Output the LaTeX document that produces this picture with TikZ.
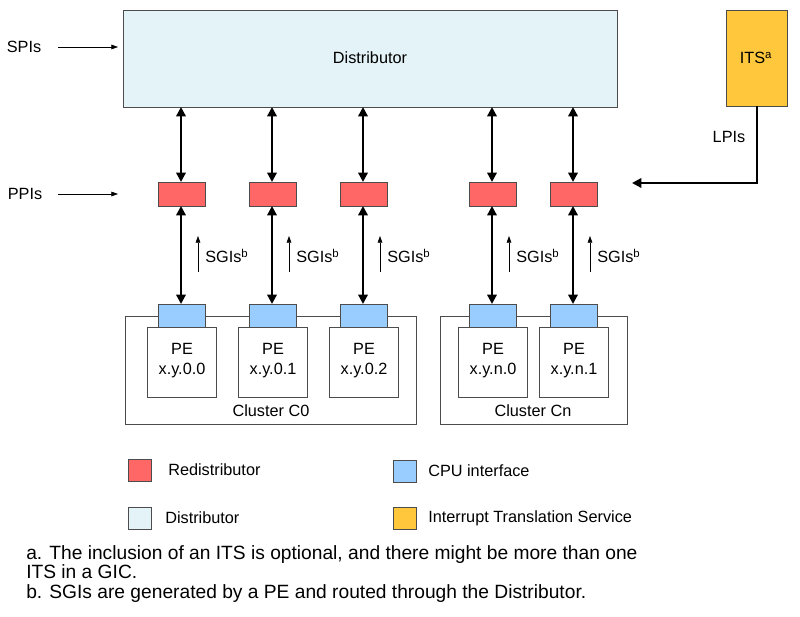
\documentclass[tikz,border=0pt]{standalone}
\usepackage{fontspec}
\setmainfont{Liberation Sans}
\usetikzlibrary{arrows.meta}
\definecolor{distc}{HTML}{E4F3F7}
\definecolor{redc}{HTML}{FF6666}
\definecolor{bluec}{HTML}{99CCFF}
\definecolor{itsc}{HTML}{FFC83C}
\begin{document}
\begin{tikzpicture}[x=0.75pt,y=-0.75pt,font=\fontsize{12.2}{14}\selectfont,
  bx/.style={draw=black!70,line width=0.6pt},
  dbl/.style={{Triangle[length=7pt,width=7pt]}-{Triangle[length=7pt,width=7pt]},line width=1.7pt},
  thin/.style={-{Triangle[length=5pt,width=3.5pt]},line width=0.5pt},
  txt/.style={inner sep=0pt}]
\useasboundingbox (0,0) rectangle (800,617);
% distributor and ITS
\draw[bx,fill=distc] (123,10) rectangle (617,107);
\node[txt] (dist) at (370,58) {Distributor};
\draw[bx,fill=itsc] (726,10) rectangle (787,106);
\node[txt] (its) at (756,58) {ITS\textsuperscript{a}};
\coordinate (itsb) at (757,106);
% inputs
\node[txt] (spi) at (24,47) {SPIs};
\coordinate (spiA) at (58,47); \coordinate (spiB) at (118,47);
\draw[thin] (spiA) -- (spiB);
\node[txt] (ppi) at (25,194) {PPIs};
\coordinate (ppiA) at (58,194); \coordinate (ppiB) at (118,194);
\draw[thin] (ppiA) -- (ppiB);
% LPIs
\node[txt] (lpi) at (729,137) {LPIs};
\coordinate (lpiT) at (632,183);
\draw[line width=1.7pt,-{Triangle[length=7pt,width=7pt]}] (itsb) |- (lpiT);
% clusters
\draw[bx] (125,316) rectangle (416,424);
\node[txt] (c0) at (271,411) {Cluster C0};
\draw[bx] (440,316) rectangle (627,424);
\node[txt] (cn) at (533,411) {Cluster Cn};
% columns
\foreach \x/\n/\l in {181/a/x.y.0.0,272/b/x.y.0.1,363/c/x.y.0.2,492/d/x.y.n.0,573/e/x.y.n.1}{
  \draw[bx,fill=redc] (\x-23,182) rectangle (\x+24,206);
  \coordinate (rt\n) at (\x,182); \coordinate (rb\n) at (\x,206);
  \coordinate (dt\n) at (\x,107);
  \draw[dbl] (dt\n) -- (rt\n);
  \draw[bx,fill=white] (\x-34,327) rectangle (\x+35,397);
  \draw[bx,fill=bluec] (\x-23,304) rectangle (\x+24,327);
  \coordinate (ct\n) at (\x,304);
  \draw[dbl] (rb\n) -- (ct\n);
  \node[txt,align=center] (pe\n) at (\x+1,361) {PE\\[1pt]\l};
  \coordinate (sa\n) at (\x+17,272); \coordinate (sb\n) at (\x+17,236);
  \draw[thin] (sa\n) -- (sb\n);
  \node[txt,anchor=west] (sg\n) at (\x+24,256) {SGIs\textsuperscript{b}};
}
% legend
\draw[bx,fill=redc] (128,459) rectangle (151,481);
\node[txt,anchor=west] (l1) at (168,470) {Redistributor};
\draw[bx,fill=bluec] (393,460) rectangle (416,482);
\node[txt,anchor=west] (l2) at (428,471) {CPU interface};
\draw[bx,fill=distc] (128,507) rectangle (151,529);
\node[txt,anchor=west] (l3) at (165,518) {Distributor};
\draw[bx,fill=itsc] (393,507) rectangle (416,529);
\node[txt,anchor=west] (l4) at (428,518) {Interrupt Translation Service};
% footnotes
\node[txt,anchor=north west,align=left,font=\fontsize{14.4}{14.6}\selectfont] (fn) at (26,545)
 {a. The inclusion of an ITS is optional, and there might be more than one\\ITS in a GIC.\\b. SGIs are generated by a PE and routed through the Distributor.};
\end{tikzpicture}
\end{document}
